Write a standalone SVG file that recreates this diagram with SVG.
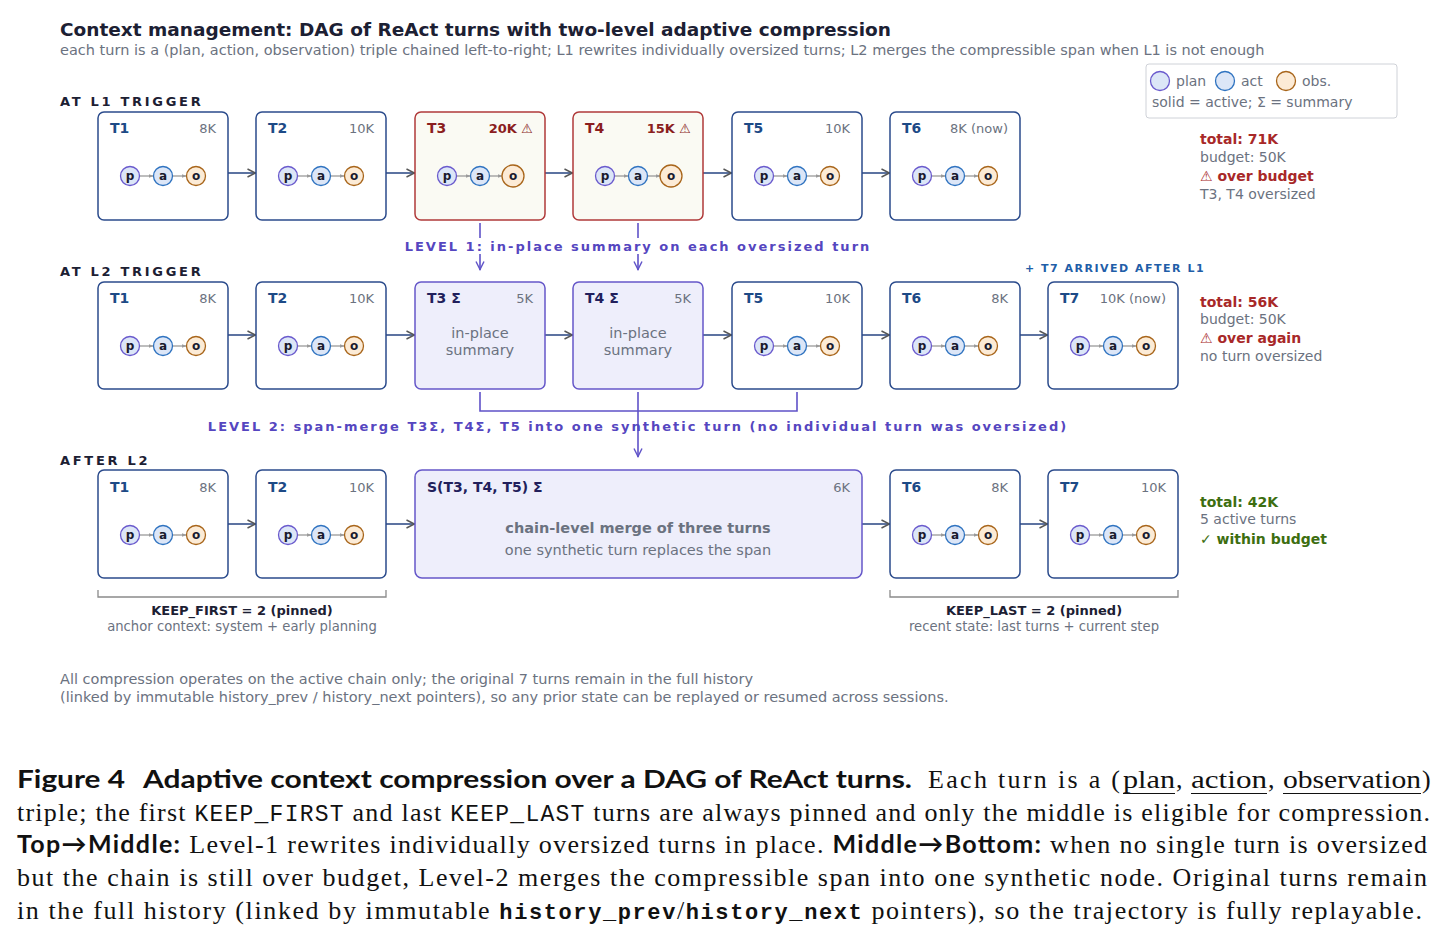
<svg xmlns="http://www.w3.org/2000/svg" xmlns:xlink="http://www.w3.org/1999/xlink" width="1448" height="941" viewBox="0 0 1448 941">
<style>
text{font-family:"DejaVu Sans","Liberation Sans",sans-serif}
.ttl{font-size:18.5px;font-weight:bold;fill:#1c2033}
.sub{font-size:14.5px;fill:#6b7280}
.sec{font-size:13px;font-weight:bold;fill:#1c2033;letter-spacing:2.7px}
.box{fill:#fff;stroke:#2b4b8c;stroke-width:1.5}
.boxr{fill:#fafaf3;stroke:#b03a3a;stroke-width:1.5}
.boxs{fill:#eeeefb;stroke:#6557c9;stroke-width:1.5}
.nt{font-size:14px;font-weight:bold;fill:#1d4a86}
.ntr{font-size:14px;font-weight:bold;fill:#8b1e1e}
.nts{font-size:14px;font-weight:bold;fill:#221f5c}
.tk{font-size:13px;fill:#6b7280;text-anchor:end}
.tkr{font-size:13px;font-weight:bold;fill:#8b1e1e;text-anchor:end}
.gm{font-size:14.5px;fill:#6b7280;text-anchor:middle}
.gmb{font-size:14.5px;font-weight:bold;fill:#6b7280;text-anchor:middle}
.st{font-size:14px;fill:#6b7280}
.str{font-size:14px;font-weight:bold;fill:#a82828}
.stg{font-size:14px;font-weight:bold;fill:#3d6e10}
.lvl{font-size:13px;font-weight:bold;fill:#5546c0;letter-spacing:2px;text-anchor:middle}
.arr{font-size:11px;font-weight:bold;fill:#1f5ea8;letter-spacing:1.5px}
.con{stroke:#34508a;stroke-width:1.6;fill:none}
.pur{stroke:#5f52c8;stroke-width:1.6;fill:none}
.brk{stroke:#8a8a8a;stroke-width:1.3;fill:none}
.kb{font-size:13px;font-weight:bold;fill:#1c2033;text-anchor:middle}
.ks{font-size:13.2px;fill:#6b7280;text-anchor:middle}
.ft{font-size:14.5px;fill:#6b7280}
.cp{fill:#dce6f7;stroke:#6a5acd;stroke-width:1.3}
.ca{fill:#dce6f7;stroke:#2f73c0;stroke-width:1.3}
.co{fill:#fcebd6;stroke:#a8651a;stroke-width:1.3}
.ct{font-size:12px;font-weight:bold;fill:#1a1a2e;text-anchor:middle}
.pl{stroke:#9a9a9a;stroke-width:1.3}
.lg{font-size:14px;fill:#6b7280}
.cap{font-family:"Liberation Serif","DejaVu Serif",serif;font-size:26px;fill:#111}
.capb{font-family:Lato,"Liberation Sans",sans-serif;font-weight:bold;font-size:25px;fill:#111}
.mono{font-family:"Liberation Mono","DejaVu Sans Mono",monospace;font-size:23px}
.monob{font-family:"Liberation Mono","DejaVu Sans Mono",monospace;font-size:22px;font-weight:bold}
.ul{stroke:#111;stroke-width:1.2}
</style>
<defs>
<marker id="ah" viewBox="0 0 10 10" refX="9.5" refY="5" markerWidth="10" markerHeight="10" markerUnits="userSpaceOnUse" orient="auto"><path d="M1,1 L9,5 L1,9" fill="none" stroke="#555" stroke-width="1.4"/></marker>
<marker id="ahp" viewBox="0 0 10 10" refX="9.5" refY="5" markerWidth="10" markerHeight="10" markerUnits="userSpaceOnUse" orient="auto"><path d="M1,1 L9,5 L1,9" fill="none" stroke="#5f52c8" stroke-width="1.4"/></marker>
<marker id="ahs" viewBox="0 0 10 10" refX="9" refY="5" markerWidth="5" markerHeight="5" markerUnits="userSpaceOnUse" orient="auto"><path d="M0,1 L10,5 L0,9 Z" fill="#9a9a9a"/></marker>
<g id="pao">
<line class="pl" x1="-23.5" y1="0" x2="-10" y2="0" marker-end="url(#ahs)"/>
<line class="pl" x1="9.5" y1="0" x2="23" y2="0" marker-end="url(#ahs)"/>
<circle class="cp" cx="-33" cy="0" r="9.5"/><text class="ct" x="-33" y="4.3">p</text>
<circle class="ca" cx="0" cy="0" r="9.5"/><text class="ct" x="0" y="4.3">a</text>
<circle class="co" cx="33" cy="0" r="9.5"/><text class="ct" x="33" y="4.3">o</text>
</g>
<g id="paob">
<line class="pl" x1="-23.5" y1="0" x2="-10" y2="0" marker-end="url(#ahs)"/>
<line class="pl" x1="9.5" y1="0" x2="22" y2="0" marker-end="url(#ahs)"/>
<circle class="cp" cx="-33" cy="0" r="9.5"/><text class="ct" x="-33" y="4.3">p</text>
<circle class="ca" cx="0" cy="0" r="9.5"/><text class="ct" x="0" y="4.3">a</text>
<circle class="co" cx="33" cy="0" r="11"/><text class="ct" x="33" y="4.3">o</text>
</g>
</defs>
<rect width="1448" height="941" fill="#fff"/>

<g id="header">
<text class="ttl" x="60" y="36">Context management: DAG of ReAct turns with two-level adaptive compression</text>
<text class="sub" x="60" y="55">each turn is a (plan, action, observation) triple chained left-to-right; L1 rewrites individually oversized turns; L2 merges the compressible span when L1 is not enough</text>
</g>

<g id="legend">
<rect x="1146" y="64" width="251" height="54" rx="3" fill="#fff" stroke="#cfd2d8" stroke-width="1"/>
<circle class="cp" cx="1160" cy="81" r="9.5"/><text class="lg" x="1176" y="86">plan</text>
<circle class="ca" cx="1225" cy="81" r="9.5"/><text class="lg" x="1241" y="86">act</text>
<circle class="co" cx="1286" cy="81" r="9.5"/><text class="lg" x="1302" y="86">obs.</text>
<text class="lg" x="1152" y="107">solid = active; Σ = summary</text>
</g>

<g id="section-labels">
<text class="sec" x="60" y="106">AT L1 TRIGGER</text>
<text class="sec" x="60" y="276">AT L2 TRIGGER</text>
<text class="sec" x="60" y="465">AFTER L2</text>
<text class="arr" x="1025" y="272">+ T7 ARRIVED AFTER L1</text>
</g>

<g id="connectors">
<line class="con" x1="228" y1="173" x2="256" y2="173" marker-end="url(#ah)"/>
<line class="con" x1="386" y1="173" x2="415" y2="173" marker-end="url(#ah)"/>
<line class="con" x1="545" y1="173" x2="573" y2="173" marker-end="url(#ah)"/>
<line class="con" x1="703" y1="173" x2="732" y2="173" marker-end="url(#ah)"/>
<line class="con" x1="862" y1="173" x2="890" y2="173" marker-end="url(#ah)"/>
<line class="con" x1="228" y1="335" x2="256" y2="335" marker-end="url(#ah)"/>
<line class="con" x1="386" y1="335" x2="415" y2="335" marker-end="url(#ah)"/>
<line class="con" x1="545" y1="335" x2="573" y2="335" marker-end="url(#ah)"/>
<line class="con" x1="703" y1="335" x2="732" y2="335" marker-end="url(#ah)"/>
<line class="con" x1="862" y1="335" x2="890" y2="335" marker-end="url(#ah)"/>
<line class="con" x1="1020" y1="335" x2="1048" y2="335" marker-end="url(#ah)"/>
<line class="con" x1="228" y1="524" x2="256" y2="524" marker-end="url(#ah)"/>
<line class="con" x1="386" y1="524" x2="415" y2="524" marker-end="url(#ah)"/>
<line class="con" x1="862" y1="524" x2="890" y2="524" marker-end="url(#ah)"/>
<line class="con" x1="1020" y1="524" x2="1048" y2="524" marker-end="url(#ah)"/>
<line class="pur" x1="480" y1="223" x2="480" y2="238"/>
<line class="pur" x1="480" y1="254" x2="480" y2="270" marker-end="url(#ahp)"/>
<line class="pur" x1="638" y1="223" x2="638" y2="238"/>
<line class="pur" x1="638" y1="254" x2="638" y2="270" marker-end="url(#ahp)"/>
<path class="pur" d="M480,392 V411 H797 V392"/>
<line class="pur" x1="638" y1="392" x2="638" y2="457" marker-end="url(#ahp)"/>
<path class="brk" d="M98,590 V597 H386 V590"/>
<path class="brk" d="M890,590 V597 H1178 V590"/>
</g>

<g id="level-labels">
<text class="lvl" x="638" y="251">LEVEL 1: in-place summary on each oversized turn</text>
<text class="lvl" x="638" y="431">LEVEL 2: span-merge T3Σ, T4Σ, T5 into one synthetic turn (no individual turn was oversized)</text>
</g>

<!-- Row 1 -->
<g id="r1-T1"><rect class="box" x="98" y="112" width="130" height="108" rx="6"/><text class="nt" x="110" y="133">T1</text><text class="tk" x="216" y="133">8K</text><use xlink:href="#pao" href="#pao" x="163" y="176"/></g>
<g id="r1-T2"><rect class="box" x="256" y="112" width="130" height="108" rx="6"/><text class="nt" x="268" y="133">T2</text><text class="tk" x="374" y="133">10K</text><use xlink:href="#pao" href="#pao" x="321" y="176"/></g>
<g id="r1-T3"><rect class="boxr" x="415" y="112" width="130" height="108" rx="6"/><text class="ntr" x="427" y="133">T3</text><text class="tkr" x="533" y="133">20K <tspan font-weight="normal">⚠</tspan></text><use xlink:href="#paob" href="#paob" x="480" y="176"/></g>
<g id="r1-T4"><rect class="boxr" x="573" y="112" width="130" height="108" rx="6"/><text class="ntr" x="585" y="133">T4</text><text class="tkr" x="691" y="133">15K <tspan font-weight="normal">⚠</tspan></text><use xlink:href="#paob" href="#paob" x="638" y="176"/></g>
<g id="r1-T5"><rect class="box" x="732" y="112" width="130" height="108" rx="6"/><text class="nt" x="744" y="133">T5</text><text class="tk" x="850" y="133">10K</text><use xlink:href="#pao" href="#pao" x="797" y="176"/></g>
<g id="r1-T6"><rect class="box" x="890" y="112" width="130" height="108" rx="6"/><text class="nt" x="902" y="133">T6</text><text class="tk" x="1008" y="133">8K (now)</text><use xlink:href="#pao" href="#pao" x="955" y="176"/></g>

<g id="stats-1">
<text class="str" x="1200" y="144">total: 71K</text>
<text class="st" x="1200" y="162">budget: 50K</text>
<text class="str" x="1200" y="181"><tspan font-weight="normal">⚠</tspan> over budget</text>
<text class="st" x="1200" y="199">T3, T4 oversized</text>
</g>

<!-- Row 2 -->
<g id="r2-T1"><rect class="box" x="98" y="282" width="130" height="107" rx="6"/><text class="nt" x="110" y="303">T1</text><text class="tk" x="216" y="303">8K</text><use xlink:href="#pao" href="#pao" x="163" y="346"/></g>
<g id="r2-T2"><rect class="box" x="256" y="282" width="130" height="107" rx="6"/><text class="nt" x="268" y="303">T2</text><text class="tk" x="374" y="303">10K</text><use xlink:href="#pao" href="#pao" x="321" y="346"/></g>
<g id="r2-T3s"><rect class="boxs" x="415" y="282" width="130" height="107" rx="6"/><text class="nts" x="427" y="303">T3 Σ</text><text class="tk" x="533" y="303">5K</text><text class="gm" x="480" y="338">in-place</text><text class="gm" x="480" y="355">summary</text></g>
<g id="r2-T4s"><rect class="boxs" x="573" y="282" width="130" height="107" rx="6"/><text class="nts" x="585" y="303">T4 Σ</text><text class="tk" x="691" y="303">5K</text><text class="gm" x="638" y="338">in-place</text><text class="gm" x="638" y="355">summary</text></g>
<g id="r2-T5"><rect class="box" x="732" y="282" width="130" height="107" rx="6"/><text class="nt" x="744" y="303">T5</text><text class="tk" x="850" y="303">10K</text><use xlink:href="#pao" href="#pao" x="797" y="346"/></g>
<g id="r2-T6"><rect class="box" x="890" y="282" width="130" height="107" rx="6"/><text class="nt" x="902" y="303">T6</text><text class="tk" x="1008" y="303">8K</text><use xlink:href="#pao" href="#pao" x="955" y="346"/></g>
<g id="r2-T7"><rect class="box" x="1048" y="282" width="130" height="107" rx="6"/><text class="nt" x="1060" y="303">T7</text><text class="tk" x="1166" y="303">10K (now)</text><use xlink:href="#pao" href="#pao" x="1113" y="346"/></g>

<g id="stats-2">
<text class="str" x="1200" y="307">total: 56K</text>
<text class="st" x="1200" y="324">budget: 50K</text>
<text class="str" x="1200" y="343"><tspan font-weight="normal">⚠</tspan> over again</text>
<text class="st" x="1200" y="361">no turn oversized</text>
</g>

<!-- Row 3 -->
<g id="r3-T1"><rect class="box" x="98" y="470" width="130" height="108" rx="6"/><text class="nt" x="110" y="492">T1</text><text class="tk" x="216" y="492">8K</text><use xlink:href="#pao" href="#pao" x="163" y="535"/></g>
<g id="r3-T2"><rect class="box" x="256" y="470" width="130" height="108" rx="6"/><text class="nt" x="268" y="492">T2</text><text class="tk" x="374" y="492">10K</text><use xlink:href="#pao" href="#pao" x="321" y="535"/></g>
<g id="r3-S"><rect class="boxs" x="415" y="470" width="447" height="108" rx="7"/><text class="nts" x="427" y="492">S(T3, T4, T5) Σ</text><text class="tk" x="850" y="492">6K</text><text class="gmb" x="638" y="533">chain-level merge of three turns</text><text class="gm" x="638" y="555">one synthetic turn replaces the span</text></g>
<g id="r3-T6"><rect class="box" x="890" y="470" width="130" height="108" rx="6"/><text class="nt" x="902" y="492">T6</text><text class="tk" x="1008" y="492">8K</text><use xlink:href="#pao" href="#pao" x="955" y="535"/></g>
<g id="r3-T7"><rect class="box" x="1048" y="470" width="130" height="108" rx="6"/><text class="nt" x="1060" y="492">T7</text><text class="tk" x="1166" y="492">10K</text><use xlink:href="#pao" href="#pao" x="1113" y="535"/></g>

<g id="stats-3">
<text class="stg" x="1200" y="507">total: 42K</text>
<text class="st" x="1200" y="524">5 active turns</text>
<text class="stg" x="1200" y="544"><tspan font-weight="normal">✓</tspan> within budget</text>
</g>

<g id="brackets">
<text class="kb" x="242" y="615">KEEP_FIRST = 2 (pinned)</text>
<text class="ks" x="242" y="631">anchor context: system + early planning</text>
<text class="kb" x="1034" y="615">KEEP_LAST = 2 (pinned)</text>
<text class="ks" x="1034" y="631">recent state: last turns + current step</text>
</g>

<g id="footnote">
<text class="ft" x="60" y="684">All compression operates on the active chain only; the original 7 turns remain in the full history</text>
<text class="ft" x="60" y="702">(linked by immutable history_prev / history_next pointers), so any prior state can be replayed or resumed across sessions.</text>
</g>

<g id="caption">
<text class="capb" x="17" y="788" textLength="108" lengthAdjust="spacingAndGlyphs">Figure 4</text>
<text class="capb" x="143" y="788" textLength="769" lengthAdjust="spacingAndGlyphs">Adaptive context compression over a DAG of ReAct turns.</text>
<text class="cap" x="928" y="788" textLength="192" lengthAdjust="spacing">Each turn is a (</text>
<text class="cap" x="1123" y="788" textLength="52" lengthAdjust="spacingAndGlyphs">plan</text>
<text class="cap" x="1176" y="788">,</text>
<text class="cap" x="1191" y="788" textLength="76" lengthAdjust="spacingAndGlyphs">action</text>
<text class="cap" x="1268" y="788">,</text>
<text class="cap" x="1283" y="788" textLength="138" lengthAdjust="spacingAndGlyphs">observation</text>
<text class="cap" x="1422" y="788">)</text>
<line class="ul" x1="1123" y1="793.5" x2="1175" y2="793.5"/>
<line class="ul" x1="1191" y1="793.5" x2="1267" y2="793.5"/>
<line class="ul" x1="1283" y1="793.5" x2="1421" y2="793.5"/>
<text class="cap" x="17" y="821" textLength="1413" lengthAdjust="spacing">triple; the first <tspan class="mono">KEEP_FIRST</tspan> and last <tspan class="mono">KEEP_LAST</tspan> turns are always pinned and only the middle is eligible for compression.</text>
<text class="cap" x="17" y="853" textLength="1410" lengthAdjust="spacing"><tspan class="capb" font-size="26">Top→Middle:</tspan> Level-1 rewrites individually oversized turns in place. <tspan class="capb" font-size="26">Middle→Bottom:</tspan> when no single turn is oversized</text>
<text class="cap" x="17" y="886" textLength="1410" lengthAdjust="spacing">but the chain is still over budget, Level-2 merges the compressible span into one synthetic node. Original turns remain</text>
<text class="cap" x="17" y="919" textLength="1405" lengthAdjust="spacing">in the full history (linked by immutable <tspan class="monob">history_prev</tspan>/<tspan class="monob">history_next</tspan> pointers), so the trajectory is fully replayable.</text>
</g>
</svg>
